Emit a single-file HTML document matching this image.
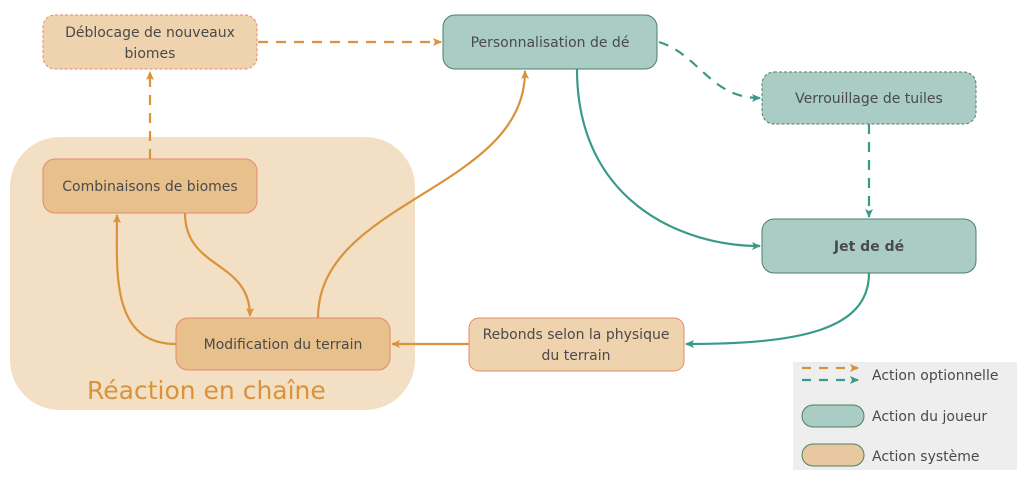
<!DOCTYPE html>
<html><head><meta charset="utf-8"><style>
html,body{margin:0;padding:0;background:#fff;width:1024px;height:480px;overflow:hidden}
text{font-family:"DejaVu Sans","Liberation Sans",sans-serif;fill:#4a4a4a}
</style></head><body>
<svg width="1024" height="480" viewBox="0 0 1024 480" xmlns="http://www.w3.org/2000/svg">
<defs>
<marker id="ao" markerWidth="10" markerHeight="10" refX="8" refY="5" orient="auto" markerUnits="userSpaceOnUse"><path d="M0,1 L9,5 L0,9 L2,5 Z" fill="#d9933a"/></marker>
<marker id="at" markerWidth="10" markerHeight="10" refX="8" refY="5" orient="auto" markerUnits="userSpaceOnUse"><path d="M0,1 L9,5 L0,9 L2,5 Z" fill="#3a9a8a"/></marker>
</defs>
<rect x="10" y="137" width="405" height="273" rx="50" fill="#f2dfc4"/>
<text x="87" y="399" font-size="25" style="fill:#d9933a">Réaction en chaîne</text>

<g fill="none" stroke-width="2.2">
<path d="M258,42 L441,42" stroke="#d9933a" stroke-dasharray="10,8" marker-end="url(#ao)"/>
<path d="M150,159 L150,72" stroke="#d9933a" stroke-dasharray="10,8" marker-end="url(#ao)"/>
<path d="M659,42 C700,55 710,98 760,98" stroke="#3a9a8a" stroke-dasharray="10,8" marker-end="url(#at)"/>
<path d="M869,124 L869,217" stroke="#3a9a8a" stroke-dasharray="10,8" marker-end="url(#at)"/>
<path d="M577,69 C577,200 680,246 760,246" stroke="#3a9a8a" marker-end="url(#at)"/>
<path d="M869,273 C869,330 800,344 686,344" stroke="#3a9a8a" marker-end="url(#at)"/>
<path d="M469,344 L392,344" stroke="#d9933a" marker-end="url(#ao)"/>
<path d="M318,318 C318,200 525,190 525,71" stroke="#d9933a" marker-end="url(#ao)"/>
<path d="M185,213 C185,270 250,260 250,316" stroke="#d9933a" marker-end="url(#ao)"/>
<path d="M176,344 C110,344 117,270 117,215" stroke="#d9933a" marker-end="url(#ao)"/>
</g>

<rect x="43" y="15" width="214" height="54" rx="12" fill="#efd3ae" stroke="#e58a6a" stroke-dasharray="3,2"/>
<text x="150" y="37" font-size="14" text-anchor="middle">Déblocage de nouveaux</text>
<text x="150" y="58" font-size="14" text-anchor="middle">biomes</text>

<rect x="443" y="15" width="214" height="54" rx="12" fill="#a9cdc5" stroke="#4f7f5f"/>
<text x="550" y="47" font-size="14" text-anchor="middle">Personnalisation de dé</text>

<rect x="762" y="72" width="214" height="52" rx="12" fill="#a9cdc5" stroke="#4f7f5f" stroke-dasharray="3,2"/>
<text x="869" y="103" font-size="14" text-anchor="middle">Verrouillage de tuiles</text>

<rect x="762" y="219" width="214" height="54" rx="12" fill="#a9cdc5" stroke="#4f7f5f"/>
<text x="869" y="251" font-size="14" font-weight="bold" text-anchor="middle">Jet de dé</text>

<rect x="469" y="318" width="215" height="53" rx="10" fill="#efd3ae" stroke="#e58a6a"/>
<text x="576" y="339" font-size="14" text-anchor="middle">Rebonds selon la physique</text>
<text x="576" y="360" font-size="14" text-anchor="middle">du terrain</text>

<rect x="176" y="318" width="214" height="52" rx="12" fill="#e8c08c" stroke="#e58a6a"/>
<text x="283" y="349" font-size="14" text-anchor="middle">Modification du terrain</text>

<rect x="43" y="159" width="214" height="54" rx="12" fill="#e8c08c" stroke="#e58a6a"/>
<text x="150" y="191" font-size="14" text-anchor="middle">Combinaisons de biomes</text>

<rect x="793" y="362" width="224" height="108" fill="#eeeeee"/>
<g fill="none" stroke-width="2.2">
<path d="M802,368 L858,368" stroke="#d9933a" stroke-dasharray="9,8" marker-end="url(#ao)"/>
<path d="M802,380 L858,380" stroke="#3a9a8a" stroke-dasharray="9,8" marker-end="url(#at)"/>
</g>
<rect x="802" y="405" width="62" height="22" rx="11" fill="#a9cdc5" stroke="#4f7f5f"/>
<rect x="802" y="444" width="62" height="22" rx="11" fill="#e8c8a0" stroke="#4f7f5f"/>
<text x="872" y="380" font-size="14">Action optionnelle</text>
<text x="872" y="421" font-size="14">Action du joueur</text>
<text x="872" y="461" font-size="14">Action système</text>
</svg>
</body></html>
